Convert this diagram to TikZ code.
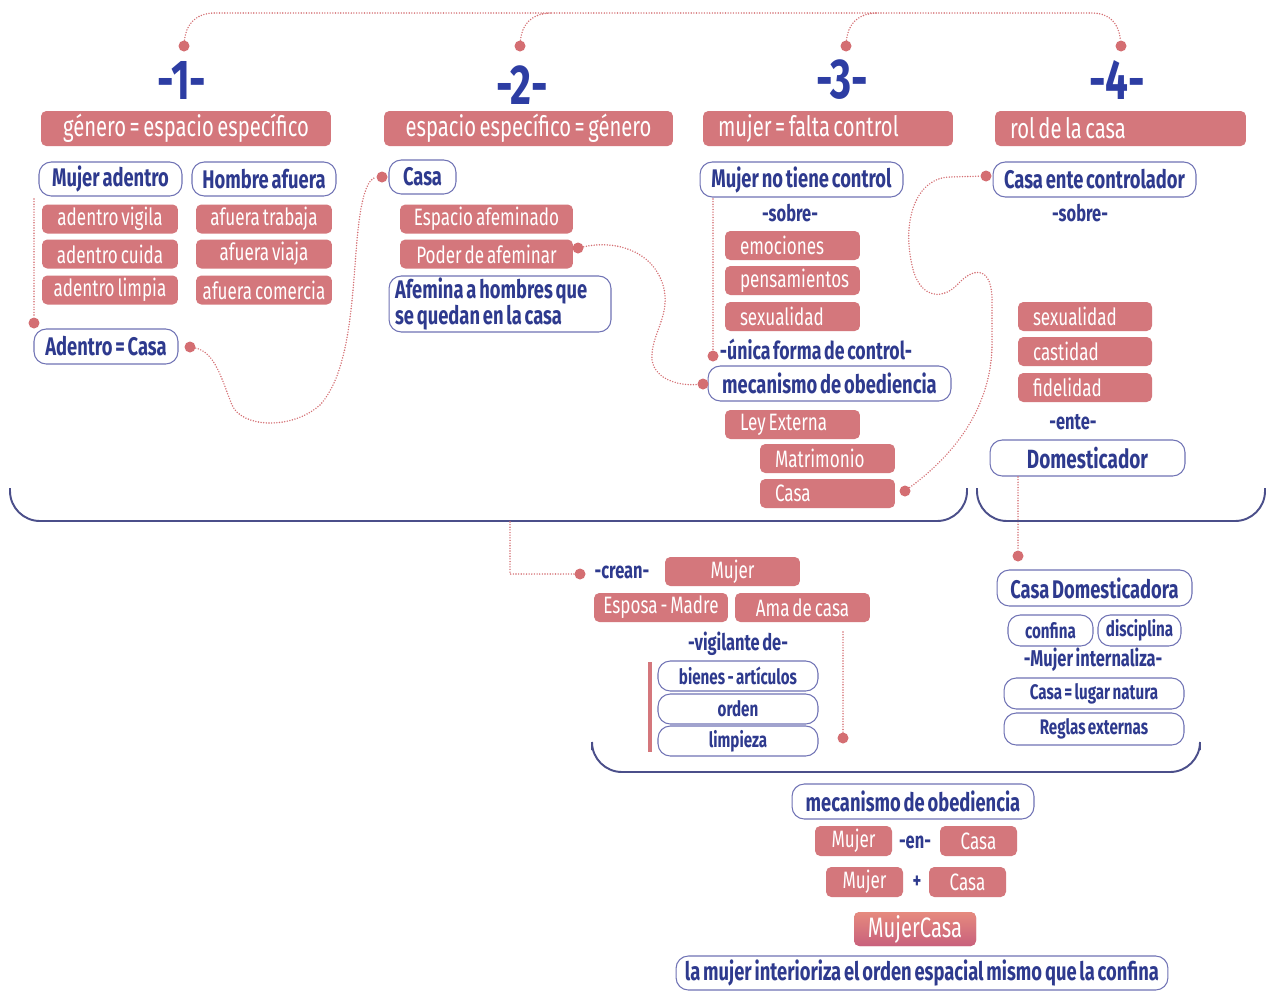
\documentclass[tikz,border=0pt]{standalone}
\usepackage{fontspec}
\setmainfont{Fira Sans}[FakeStretch=0.72, WordSpace=0.65]
\usetikzlibrary{positioning}
\definecolor{boxred}{HTML}{D4777C}
\definecolor{txtnavy}{HTML}{2E3A8E}
\definecolor{numblue}{HTML}{2D3DA3}
\definecolor{edgeblue}{HTML}{7073B5}
\definecolor{dotred}{HTML}{D46E72}
\definecolor{bracenavy}{HTML}{4B4F8A}
\definecolor{warmtop}{HTML}{E68A7E}
\definecolor{warmbot}{HTML}{C8607C}
\tikzset{
  rbox/.style={fill=boxred, text=white, rounded corners=3pt, inner sep=0pt, minimum height=0.58cm, font=\fontsize{13.5}{13}\selectfont},
  lbox/.style={rbox, align=flush left, inner xsep=0.3cm, text width=#1},
  hbox/.style={rbox, minimum height=0.7cm, font=\fontsize{16}{16}\selectfont},
  hlbox/.style={hbox, align=flush left, inner xsep=0.3cm, text width=#1},
  obox/.style={draw=edgeblue, line width=0.6pt, fill=white, text=txtnavy, rounded corners=7pt, inner sep=0pt, minimum height=0.68cm, font=\bfseries\fontsize{14.5}{14}\selectfont},
  sbox/.style={obox, minimum height=0.6cm, font=\bfseries\fontsize{12}{12}\selectfont},
  word/.style={text=txtnavy, inner sep=1pt, font=\bfseries\fontsize{13}{13}\selectfont},
  num/.style={text=numblue, font=\bfseries\fontsize{32}{32}\selectfont},
  pin/.style={circle, fill=dotred, inner sep=0pt, minimum size=0.22cm},
  link/.style={dotred, line width=0.9pt, dash pattern=on 0pt off 1.5pt, line cap=round},
  brace/.style={bracenavy, line width=1.1pt, rounded corners=0.6cm}
}
\begin{document}
\begin{tikzpicture}[x=0.02cm, y=-0.02cm]
\fill[white] (0,0) rectangle (1274,991);
\useasboundingbox (0,0) rectangle (1274,991);

% the four headings
\node[num] (n1) at (182,80) {-1-};
\node[num] (n2) at (522,85) {-2-};
\node[num] (n3) at (842,80) {-3-};
\node[num] (n4) at (1117,80) {-4-};
\node[pin] (p1) at (184,46) {};
\node[pin] (p2) at (520,46) {};
\node[pin] (p3) at (846,46) {};
\node[pin] (p4) at (1121,46) {};
\coordinate (topL) at (215,13); \coordinate (topR) at (1092,13);
\draw[link] (p1) .. controls (186,24) and (196,13) .. (topL) -- (topR) .. controls (1110,13) and (1119,24) .. (p4);
\foreach \p/\x in {p2/520, p3/846} \draw[link] (\p) .. controls (\x+2,24) and (\x+12,13) .. (\x+32,13);

\node[hbox, minimum width=5.8cm] (t1) at (186,128.5) {género = espacio específico};
\node[hbox, minimum width=5.78cm] (t2) at (528.5,128.5) {espacio específico = género};
\node[hlbox=4.4cm] (t3) at (828,128.5) {mujer = falta control};
\node[hlbox=4.42cm] (t4) at (1120.5,128.5) {rol de la casa};

% column 1
\node[obox, minimum width=2.86cm] (ma) at (110.5,179) {Mujer adentro};
\node[obox, minimum width=2.88cm] (ha) at (264,179) {Hombre afuera};
\foreach \t/\y [count=\i] in {adentro vigila/219, adentro cuida/254, adentro limpia/290}
  \node[rbox, minimum width=2.72cm] (in\i) at (110,\y) {\t};
\foreach \t/\y [count=\i] in {afuera trabaja/219, afuera viaja/254, afuera comercia/290}
  \node[rbox, minimum width=2.72cm] (out\i) at (264,\y) {\t};
\node[obox, minimum width=2.88cm, minimum height=0.7cm] (ac) at (106,346.5) {Adentro = Casa};
\node[pin] (acT) at (34,323) {};
\node[pin] (acR) at (190,347) {};
\coordinate (maL) at (34,199);
\draw[link] (maL) -- (acT);

% column 2
\node[obox, minimum width=1.34cm] (casa2) at (422.5,177) {Casa};
\node[pin] (casa2L) at (382,177) {};
\node[rbox, minimum width=3.46cm] (ea) at (486.5,219) {Espacio afeminado};
\node[rbox, minimum width=3.46cm] (pa) at (486.5,254) {Poder de afeminar};
\node[pin] (paR) at (578,248) {};
\node[obox, align=flush left, text width=4.2cm, inner xsep=0.12cm, minimum height=1.12cm, font=\bfseries\fontsize{14.5}{12.5}\selectfont] (afh) at (500,304) {Afemina a hombres que\\se quedan en la casa};
\draw[link] (acR) .. controls (215,352) and (222,380) .. (232,405) .. controls (242,428) and (292,430) .. (320,405) .. controls (350,372) and (352,300) .. (357,240) .. controls (361,195) and (368,178) .. (casa2L);

% column 3
\node[obox, minimum width=4.06cm, minimum height=0.7cm] (mntc) at (801.5,179.5) {Mujer no tiene control};
\node[word] (sobre3) at (790,213) {-sobre-};
\foreach \t/\y [count=\i] in {emociones/245.5, pensamientos/280.5, sexualidad/316.5}
  \node[lbox=2.1cm] (ctl\i) at (792.5,\y) {\t};
\node[word, font=\bfseries\fontsize{14}{14}\selectfont] (unica) at (816,349) {-única forma de control-};
\node[pin] (unicaL) at (713,356) {};
\coordinate (mntcB) at (713,199);
\draw[link] (mntcB) -- (unicaL);
\node[obox, minimum width=4.86cm, minimum height=0.7cm] (mo) at (829.5,383.5) {mecanismo de obediencia};
\node[pin] (moL) at (703,384) {};
\draw[link] (paR) .. controls (615,240) and (652,250) .. (663,285) .. controls (672,315) and (650,335) .. (652,360) .. controls (655,380) and (680,386) .. (moL);
\node[lbox=2.1cm] (ley) at (792.5,424.5) {Ley Externa};
\node[lbox=2.1cm] (mat) at (827.5,458.5) {Matrimonio};
\node[lbox=2.1cm] (casa3) at (827.5,493.5) {Casa};
\node[pin] (casa3R) at (905,491) {};

% column 4
\node[obox, minimum width=4.06cm, minimum height=0.7cm] (cec) at (1094.5,179.5) {Casa ente controlador};
\node[pin] (cecL) at (986,176) {};
\draw[link] (casa3R) .. controls (940,465) and (990,420) .. (992,347) -- (992,300) .. controls (992,268) and (975,265) .. (957,285) .. controls (940,302) and (918,296) .. (912,265) .. controls (902,222) and (915,178) .. (950,177) -- (cecL);
\node[word] (sobre4) at (1080,213) {-sobre-};
\foreach \t/\y [count=\i] in {sexualidad/316.5, castidad/351.5, fidelidad/387.5}
  \node[lbox=2.08cm] (ent\i) at (1085,\y) {\t};
\node[word] (ente) at (1073,422) {-ente-};
\node[obox, minimum width=3.9cm, minimum height=0.72cm, font=\bfseries\fontsize{15}{15}\selectfont] (dom) at (1087.5,458) {Domesticador};
\node[pin] (domB) at (1018,556) {};
\coordinate (domS) at (1018,477);
\draw[link] (domS) -- (domB);

% brackets
\draw[brace] (10,488) |- (967,521) -- (967,488);
\draw[brace] (977,488) |- (1265,521) -- (1265,488);
\draw[brace] (592,750) |- (1200,772) -- (1200,750);

% what the house creates
\coordinate (brk) at (510,522);
\node[pin] (creanL) at (580,574) {};
\draw[link] (brk) |- (creanL);
\node[word] (crean) at (622,572) {-crean-};
\node[rbox, minimum width=2.7cm] (mujer5) at (732.5,571.5) {Mujer};
\node[rbox, minimum width=2.68cm] (esposa) at (661,607.5) {Esposa - Madre};
\node[rbox, minimum width=2.7cm] (ama) at (802.5,607.5) {Ama de casa};
\node[word] (vig) at (738,644) {-vigilante de-};
\foreach \t/\y [count=\i] in {bienes - artículos/676, orden/709, limpieza/741}
  \node[sbox, minimum width=3.2cm] (vig\i) at (738,\y) {\t};
\draw[boxred, line width=2pt] (650,662) -- (650,752);
\node[pin] (vigR) at (843,738) {};
\coordinate (amaB) at (843,632);
\draw[link] (amaB) -- (vigR);

% domesticating house
\node[obox, minimum width=3.9cm, minimum height=0.72cm] (cd) at (1094.5,588) {Casa Domesticadora};
\node[sbox, minimum width=1.7cm, minimum height=0.62cm] (conf) at (1050.5,630.5) {confina};
\node[sbox, minimum width=1.66cm, minimum height=0.62cm] (disc) at (1139.5,630.5) {disciplina};
\node[word] (mi) at (1093,660) {-Mujer internaliza-};
\node[sbox, minimum width=3.6cm, minimum height=0.62cm] (cln) at (1094,693.5) {Casa = lugar natura};
\node[sbox, minimum width=3.6cm, minimum height=0.64cm] (reg) at (1094,729) {Reglas externas};

% result
\node[obox, minimum width=4.84cm, minimum height=0.7cm] (mo2) at (913,801.5) {mecanismo de obediencia};
\node[rbox, minimum width=1.54cm, minimum height=0.6cm] (mujer6) at (853.5,841) {Mujer};
\node[word] (en) at (915,842) {-en-};
\node[rbox, minimum width=1.54cm, minimum height=0.6cm] (casa6) at (978.5,841) {Casa};
\node[rbox, minimum width=1.54cm, minimum height=0.6cm] (mujer7) at (864.5,882) {Mujer};
\node[word] (plus) at (917,882) {+};
\node[rbox, minimum width=1.54cm, minimum height=0.6cm] (casa7) at (967.5,882) {Casa};
\node[rbox, top color=warmtop, bottom color=warmbot, minimum width=2.44cm, minimum height=0.68cm, font=\fontsize{16}{16}\selectfont] (mc) at (915,929) {MujerCasa};
\node[obox, minimum width=9.84cm] (last) at (922,973) {la mujer interioriza el orden espacial mismo que la confina};
\end{tikzpicture}
\end{document}
